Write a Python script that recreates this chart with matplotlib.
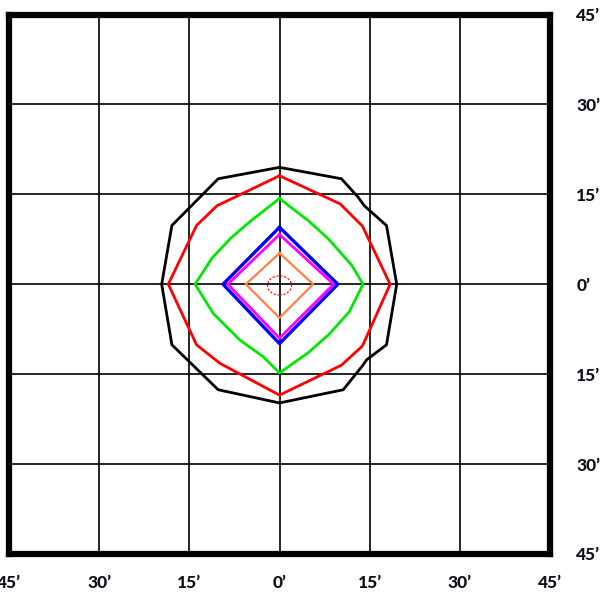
import matplotlib
matplotlib.use("Agg")
import matplotlib.pyplot as plt
from matplotlib.patches import Ellipse

# Angular field, minutes of arc
tick_values = [-45, -30, -15, 0, 15, 30, 45]
tick_labels = ["45\u2019", "30\u2019", "15\u2019", "0\u2019", "15\u2019", "30\u2019", "45\u2019"]

# Contour outlines (x, y in arc-minutes), outermost first
black_x = [0, 10.3, 13.1, 14.1, 17.8, 19.5, 17.8, 14.5, 13.8, 10.6, 0, -10.2, -17.9, -19.6, -17.9, -10.2]
black_y = [19.5, 17.6, 14.5, 13.1, 9.8, 0, -10.1, -12.6, -13.6, -17.6, -19.8, -17.6, -10.1, 0, 9.8, 17.6]

red_x = [0, 10.1, 13.8, 18.4, 13.8, 10.3, 0, -9.9, -13.8, -18.5, -13.8, -10.4]
red_y = [18.1, 13.4, 9.7, 0, -10.3, -13.5, -18.5, -13.2, -10.1, 0, 9.8, 13.1]

green_x = [0, 4.8, 8.1, 12.0, 13.9, 11.6, 8.2, 4.8, 0, -2.7, -6.6, -11.0, -14.05, -11.2, -8.0, -4.6]
green_y = [14.3, 10.6, 7.6, 3.2, 0, -4.6, -8.4, -11.4, -14.8, -12.1, -9.3, -4.9, 0, 4.4, 7.8, 10.7]

blue_x = [0, 9.7, 0, -9.4, 0]
blue_y = [9.5, 0, -9.9, 0, 9.5]

magenta_x = [0, 9.0, 0, -8.6, 0]
magenta_y = [8.3, 0, -9.0, 0, 8.3]

orange_x = [0, 5.6, 0, -5.6, 0]
orange_y = [5.2, 0, -5.6, 0, 5.2]

core_width, core_height = 4.0, 3.2

fig = plt.figure(figsize=(6.05, 5.92), dpi=100)
ax = fig.add_axes([9 / 605, 1 - 554 / 592, 541 / 605, 539.5 / 592])
ax.set_xlim(-45, 45)
ax.set_ylim(-45, 45)

ax.set_xticks(tick_values)
ax.set_yticks(tick_values)
ax.set_xticklabels(tick_labels)
ax.set_yticklabels(tick_labels)
ax.yaxis.tick_right()
for t in ax.get_xticklabels() + ax.get_yticklabels():
    t.set_fontfamily(["Lato", "DejaVu Sans"])
    t.set_fontweight(900)
    t.set_fontsize(12.5)
    t.set_color("#10101c")
ax.tick_params(axis="x", length=0, pad=15)
ax.tick_params(axis="y", length=0, pad=19)
for lbl in ax.get_yticklabels():
    lbl.set_horizontalalignment("left")

ax.grid(True, color="black", linewidth=1.2)
ax.set_axisbelow(True)
for s in ax.spines.values():
    s.set_linewidth(4.5)
    s.set_color("black")

def closed(xs, ys):
    return list(xs) + [xs[0]], list(ys) + [ys[0]]

ax.plot(*closed(black_x, black_y), color="black", lw=2.0, zorder=3)
ax.plot(*closed(red_x, red_y), color="#ff0000", lw=2.0, zorder=3)
ax.plot(*closed(green_x, green_y), color="#00e800", lw=2.0, zorder=3)
ax.plot(blue_x, blue_y, color="#0000ff", lw=2.4, zorder=3)
ax.plot(magenta_x, magenta_y, color="#ff00ff", lw=2.0, zorder=3)
ax.plot(orange_x, orange_y, color="#ff8040", lw=1.6, zorder=3)
ax.add_patch(Ellipse((0, -0.2), core_width, core_height, fill=False,
                     edgecolor="#ff0000", lw=0.8, linestyle=(0, (2, 1.5)), zorder=3))

fig.savefig("out.png", dpi=100)
